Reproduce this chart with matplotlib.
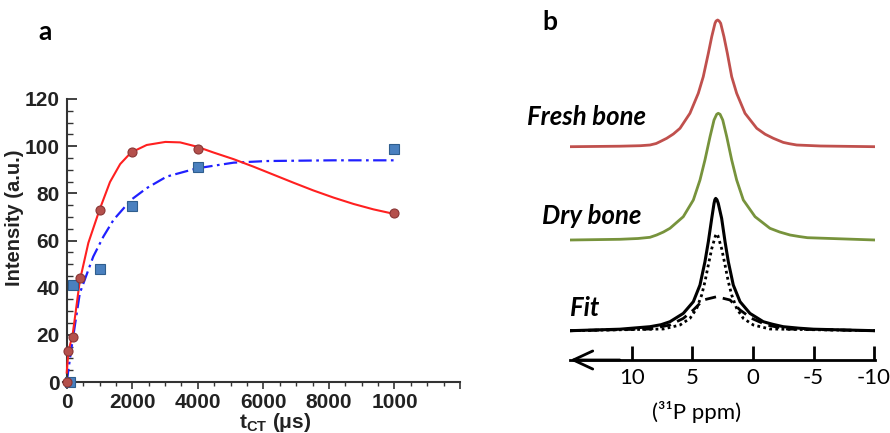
import numpy as np
import matplotlib.pyplot as plt
from matplotlib.ticker import MultipleLocator

plt.rcParams['mathtext.fontset'] = 'custom'
plt.rcParams['mathtext.rm'] = 'Liberation Sans:bold'

# ---- panel a: build-up curves ----
red_x = [0, 50, 200, 400, 1000, 2000, 4000, 10000]
red_y = [0, 13, 19, 44, 73, 97.5, 99, 71.5]
blue_x = [100, 200, 1000, 2000, 4000, 10000]
blue_y = [0, 41, 48, 74.5, 91, 99]

red_fit_x = [0, 50, 180, 400, 660, 1000, 1320, 1630, 1960, 2440, 3010, 3460,
             3970, 4480, 5090, 5700, 6310, 6920, 7530, 8140, 8750, 9360, 9980]
red_fit_y = [4, 13, 20, 43, 59, 73, 84.8, 92.4, 97.3, 100.5, 101.8, 101.6,
             99.8, 97.3, 94.5, 91.3, 87.9, 84.5, 81.2, 78.2, 75.5, 73.2, 71.3]
blue_fit_x = [0, 150, 400, 810, 1120, 1430, 1960, 2440, 3050, 3970, 5090, 6110, 8140, 9980]
blue_fit_y = [0, 15, 37.7, 53.2, 61.7, 68.8, 77.2, 82.2, 87.1, 90.6, 93, 93.7, 94, 94]

xticks_a = [0, 2000, 4000, 6000, 8000, 10000, 12000]
xticklabels_a = ['0', '2000', '4000', '6000', '8000', '1000', '']
yticks_a = [0, 20, 40, 60, 80, 100, 120]

# ---- panel b: 31P spectra (ppm, height above own baseline) ----
fresh_ppm = [15.12, 11.0, 9.3, 8.51, 8.0, 7.69, 7.13, 6.58, 6.03, 5.21, 4.52, 4.11, 3.69,
             3.41, 3.14, 3.05, 2.92, 2.80, 2.67, 2.40, 2.12, 1.76, 1.35, 0.66, -0.31,
             -1.0, -1.68, -2.50, -3.0, -3.61, -5.58, -10.08]
fresh_int = [0, 0.5, 1.0, 1.7, 3.2, 5, 8.4, 12.7, 18.4, 33.4, 53.4, 70, 93.4,
             110, 123.4, 125.7, 126.7, 125.7, 123.4, 110, 93.4, 70, 53.4, 33.4, 18.4,
             12.5, 8.4, 4.3, 3.0, 1.7, 0.7, 0]
dry_ppm = [15.12, 11.0, 9.5, 8.51, 7.96, 7.4, 6.86, 5.76, 4.93, 4.38, 3.97, 3.55, 3.22,
           3.0, 2.87, 2.72, 2.50, 2.17, 1.76, 1.35, 0.80, -0.17, -1.40, -2.2, -3.06,
           -3.8, -4.5, -10.08]
dry_int = [0, 0.7, 1.5, 2.7, 5, 8, 11.7, 23.3, 40, 60, 80, 103.3, 120,
           125.7, 126.7, 125.7, 120, 103.3, 80, 60, 40, 23.3, 11.7, 8, 5,
           3.5, 2.3, 0]
fit_ppm = [15.12, 11.0, 8.51, 7.6, 6.86, 5.76, 4.93, 4.38, 3.97, 3.69, 3.41, 3.22, 3.15,
           3.08, 2.98, 2.87, 2.59, 2.31, 2.04, 1.63, 1.07, 0.25, -0.85, -1.6, -2.50,
           -3.8, -5.0, -10.08]
fit_int = [0, 1.5, 4, 6, 9, 17.3, 29, 45.7, 69, 89, 112.3, 127.3, 131,
           132.3, 131, 127.3, 112.3, 89, 69, 45.7, 29, 17.3, 9, 6.5, 4,
           2.5, 1.5, 0]
comp1_ppm = [15.12, 7.41, 6.03, 5.21, 4.65, 4.24, 3.97, 3.69, 3.41, 3.10, 3.0, 2.90,
             2.59, 2.31, 2.04, 1.76, 1.35, 0.80, -0.03, -1.40, -10.08]
comp1_int = [0, 1.7, 5.7, 12.3, 22.3, 35.7, 49, 65.7, 82, 95, 97, 95,
             82, 65.7, 49, 35.7, 22.3, 12.3, 5.7, 1.7, 0]
comp2_ppm = [15.12, 8.51, 6.86, 5.76, 4.93, 4.11, 3.0, 1.90, 1.07, 0.11, -1.13, -2.79, -10.08]
comp2_int = [0, 1.7, 5.7, 12.3, 20.7, 30.7, 34, 30.7, 20.7, 12.3, 5.7, 1.7, 0]

fresh_base, dry_base, fit_base = 213.3, 120, 29.3
xticks_b = [10, 5, 0, -5, -10]

W, H = 890, 433
fig = plt.figure(figsize=(W / 100, H / 100), dpi=100)

# panel a
ax = fig.add_axes([62.8 / W, (H - 382) / H, (460 - 62.8) / W, 283 / H])
ax.plot(blue_fit_x, blue_fit_y, color='#2020ff', lw=1.6, dashes=(6, 2, 1.2, 2), zorder=2)
ax.plot(red_fit_x, red_fit_y, color='#ff2020', lw=1.5, zorder=3)
ax.plot(blue_x, blue_y, 's', ms=6.5, mfc='#4a80bf', mec='#2f5e8e', mew=0.8,
        clip_on=False, zorder=4)
ax.plot(red_x, red_y, 'o', ms=6.5, mfc='#b4504c', mec='#8a3535', mew=0.8,
        clip_on=False, zorder=5)
ax.set_xlim(-120, 12000)
ax.set_ylim(0, 120)
ax.spines['left'].set_position(('data', 0))
ax.spines['top'].set_visible(False)
ax.spines['right'].set_visible(False)
for s in ('left', 'bottom'):
    ax.spines[s].set_linewidth(1.5)
    ax.spines[s].set_color('#333333')
ax.set_xticks(xticks_a)
ax.set_xticklabels(xticklabels_a)
ax.set_yticks(yticks_a)
ax.xaxis.set_minor_locator(MultipleLocator(500))
ax.yaxis.set_minor_locator(MultipleLocator(5))
ax.tick_params(axis='x', which='major', direction='out', length=5, width=1.2, pad=3,
               color='#333333')
ax.tick_params(axis='x', which='minor', direction='out', length=3, width=1, color='#333333')
ax.tick_params(axis='y', which='major', direction='in', length=7, width=1.3, pad=5,
               color='#333333')
ax.tick_params(axis='y', which='minor', direction='in', length=4, width=1, color='#333333')
for lab in ax.get_xticklabels() + ax.get_yticklabels():
    lab.set_fontfamily('Liberation Sans')
    lab.set_fontweight('bold')
    lab.set_fontsize(15)
    lab.set_color('#222222')
ax.set_ylabel('Intensity (a.u.)', family='Liberation Sans', weight='bold', fontsize=14.5,
              color='#222222')
ax.yaxis.set_label_coords((15 - 62.8) / (460 - 62.8), (382 - 218) / 283)
ax.yaxis.label.set_va('center')
ax.set_xlabel('t$_\\mathrm{CT}$ (μs)', family='Liberation Sans', weight='bold', fontsize=15,
              color='#222222', labelpad=0)
ax.xaxis.set_label_coords((275 - 62.8) / (460 - 62.8), -(423 - 382) / 283)
ax.xaxis.label.set_va('center')
fig.text(45 / W, 1 - 32 / H, 'a', family='Lato', weight='bold', fontsize=19,
         ha='center', va='center')

# panel b
bx = fig.add_axes([570 / W, (H - 360) / H, 305 / W, 350 / H])
bx.set_xlim(15.12, -10.08)
bx.set_ylim(0, 350)
bx.plot(fresh_ppm, np.array(fresh_int) + fresh_base, color='#c0504d', lw=2)
bx.plot(dry_ppm, np.array(dry_int) + dry_base, color='#77933c', lw=2)
bx.plot(comp2_ppm, np.array(comp2_int) + fit_base, color='black', lw=2, dashes=(4, 2.5))
bx.plot(comp1_ppm, np.array(comp1_int) + fit_base, color='black', lw=2, dashes=(1, 1.2))
bx.plot(fit_ppm, np.array(fit_int) + fit_base, color='black', lw=2.2)
for s in ('left', 'top', 'right'):
    bx.spines[s].set_visible(False)
bx.spines['bottom'].set_linewidth(2)
bx.set_yticks([])
bx.set_xticks(xticks_b)
bx.set_xticklabels([str(t) for t in xticks_b], family='Lato', fontsize=16)
bx.tick_params(axis='x', direction='in', length=10, width=2, pad=6)
bx.annotate('', xy=(15.12, 0), xytext=(11.0, 0), xycoords='data',
            arrowprops=dict(arrowstyle='->, head_length=1.4, head_width=0.65', lw=2,
                            color='black', shrinkA=0, shrinkB=0),
            annotation_clip=False)
bx.set_xlabel('(³¹P ppm)', family='Lato', fontsize=16)
bx.xaxis.set_label_coords((697 - 570) / 305, -52 / 350)
bx.xaxis.label.set_va('center')
fig.text(550 / W, 1 - 22 / H, 'b', family='Lato', weight='bold', fontsize=19,
         ha='center', va='center')
for txt, x0, y0 in [('Fresh bone', 527, 117), ('Dry bone', 542, 216), ('Fit', 570, 308)]:
    fig.text(x0 / W, 1 - y0 / H, txt, family='Lato', weight='bold', style='italic',
             fontsize=18.5, ha='left', va='center')

fig.savefig('out.png', dpi=100)
